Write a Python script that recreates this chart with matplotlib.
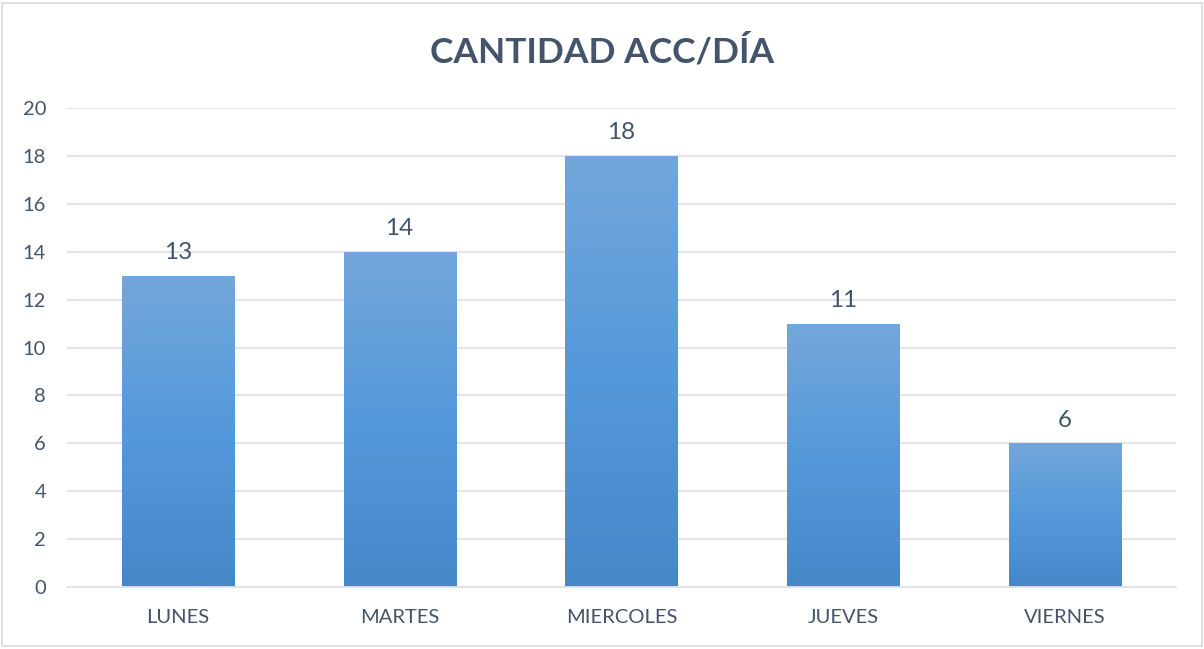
import numpy as np
import matplotlib.pyplot as plt
from matplotlib.colors import LinearSegmentedColormap
from matplotlib.patches import Rectangle

dias = ['LUNES', 'MARTES', 'MIERCOLES', 'JUEVES', 'VIERNES']
cantidad = [13, 14, 18, 11, 6]
yticks = [0, 2, 4, 6, 8, 10, 12, 14, 16, 18, 20]

plt.rcParams['font.family'] = ['Lato', 'DejaVu Sans']
txt = '#44546a'

fig = plt.figure(figsize=(12.04, 6.49), dpi=100)
ax = fig.add_axes([0.0556, 0.0955, 0.9211, 0.7381])

grad = LinearSegmentedColormap.from_list('g', ['#4588c8', '#5499db', '#73a7da'])
x = np.arange(len(dias))
bars = ax.bar(x, cantidad, width=0.505, color='none', zorder=2)
g = np.linspace(0, 1, 256).reshape(-1, 1)
for b in bars:
    x0, w, h = b.get_x(), b.get_width(), b.get_height()
    im = ax.imshow(g, cmap=grad, aspect='auto', origin='lower',
                   extent=(x0, x0 + w, 0, h), zorder=2)
    im.set_clip_path(b)

for xi, v in zip(x, cantidad):
    ax.annotate(str(v), (xi, v), xytext=(0, 9), textcoords='offset points',
                ha='center', va='bottom', fontsize=17.5, color=txt)

ax.set_xlim(-0.5, len(dias) - 0.5)
ax.set_ylim(0, 20)
ax.set_yticks(yticks)
ax.set_xticks(x)
ax.set_xticklabels(dias)
ax.yaxis.grid(True, color='#dfe2e8', linewidth=1.3, zorder=0)
ax.set_axisbelow(True)
for s in ['top', 'right', 'left']:
    ax.spines[s].set_visible(False)
ax.spines['bottom'].set_color('#dfe2e8')
ax.spines['bottom'].set_linewidth(1.3)
ax.tick_params(length=0, labelsize=14.5, colors=txt)
ax.tick_params(axis='x', pad=16)
ax.tick_params(axis='y', pad=15)

fig.text(0.5, 0.92, 'CANTIDAD ACC/DÍA', ha='center', va='center',
         fontsize=25.5, fontweight='bold', color=txt)
fig.patches.append(Rectangle((0.002, 0.004), 0.996, 0.992, transform=fig.transFigure,
                             fill=False, edgecolor='#d9d9d9', linewidth=1.2))

fig.savefig('out.png', dpi=100)
